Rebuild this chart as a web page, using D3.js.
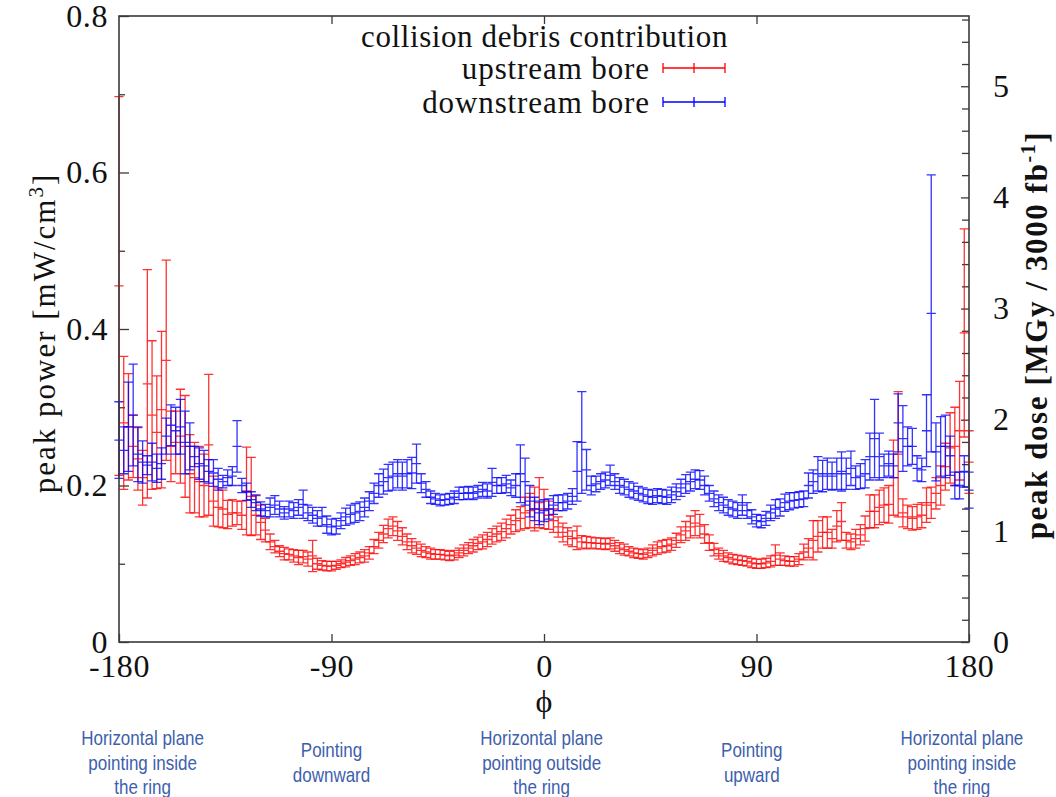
<!DOCTYPE html>
<html>
<head>
<meta charset="utf-8">
<script src="https://cdn.jsdelivr.net/npm/d3@7"></script>
<style>
  body { margin: 0; background: #fff; }
  svg { display: block; }
</style>
</head>
<body>
<svg id="chart" width="1056" height="797"></svg>
<script>
// Azimuthal angle of each bin centre (degrees)
const phi = [
  -180,-178,-176,-174,-172,-170,-168,-166,-164,-162,
  -160,-158,-156,-154,-152,-150,-148,-146,-144,-142,
  -140,-138,-136,-134,-132,-130,-128,-126,-124,-122,
  -120,-118,-116,-114,-112,-110,-108,-106,-104,-102,
  -100,-98,-96,-94,-92,-90,-88,-86,-84,-82,
  -80,-78,-76,-74,-72,-70,-68,-66,-64,-62,
  -60,-58,-56,-54,-52,-50,-48,-46,-44,-42,
  -40,-38,-36,-34,-32,-30,-28,-26,-24,-22,
  -20,-18,-16,-14,-12,-10,-8,-6,-4,-2,
  0,2,4,6,8,10,12,14,16,18,
  20,22,24,26,28,30,32,34,36,38,
  40,42,44,46,48,50,52,54,56,58,
  60,62,64,66,68,70,72,74,76,78,
  80,82,84,86,88,90,92,94,96,98,
  100,102,104,106,108,110,112,114,116,118,
  120,122,124,126,128,130,132,134,136,138,
  140,142,144,146,148,150,152,154,156,158,
  160,162,164,166,168,170,172,174,176,178,
  180
];

// Upstream bore: peak power (mW/cm3) and statistical error
const upstreamPower = [
  0.455,0.28,0.275,0.25,0.234,0.21,0.33,0.29,0.268,0.297,
  0.36,0.25,0.255,0.263,0.25,0.215,0.21,0.205,0.2,0.252,
  0.18,0.172,0.17,0.163,0.165,0.165,0.162,0.193,0.186,0.162,
  0.153,0.143,0.128,0.122,0.116,0.113,0.112,0.11,0.108,0.109,
  0.106,0.11,0.1,0.098,0.097,0.097,0.098,0.1,0.102,0.104,
  0.106,0.108,0.11,0.114,0.122,0.13,0.138,0.145,0.148,0.142,
  0.135,0.128,0.123,0.12,0.117,0.115,0.113,0.112,0.112,0.111,
  0.11,0.111,0.114,0.117,0.12,0.123,0.126,0.128,0.131,0.135,
  0.138,0.141,0.145,0.15,0.155,0.158,0.165,0.168,0.17,0.178,
  0.17,0.162,0.155,0.147,0.14,0.135,0.132,0.133,0.128,0.127,
  0.127,0.126,0.126,0.125,0.126,0.123,0.12,0.118,0.116,0.114,
  0.113,0.112,0.114,0.117,0.12,0.122,0.123,0.125,0.13,0.137,
  0.142,0.147,0.152,0.148,0.138,0.127,0.118,0.113,0.11,0.108,
  0.106,0.105,0.104,0.103,0.101,0.1,0.1,0.101,0.103,0.111,
  0.106,0.104,0.103,0.103,0.106,0.115,0.12,0.13,0.135,0.14,
  0.14,0.132,0.148,0.154,0.13,0.128,0.132,0.137,0.145,0.167,
  0.167,0.172,0.175,0.176,0.21,0.24,0.165,0.16,0.158,0.16,
  0.162,0.175,0.178,0.19,0.2,0.224,0.248,0.25,0.27,0.395,
  0.23
];
const upstreamErr = [
  0.242,0.085,0.068,0.04,0.04,0.035,0.146,0.095,0.072,0.10,
  0.128,0.045,0.04,0.06,0.065,0.05,0.045,0.045,0.04,0.09,
  0.032,0.025,0.024,0.018,0.017,0.015,0.018,0.056,0.05,0.025,
  0.022,0.015,0.01,0.008,0.007,0.008,0.007,0.008,0.009,0.008,
  0.009,0.02,0.007,0.006,0.006,0.006,0.005,0.005,0.006,0.006,
  0.007,0.007,0.008,0.008,0.009,0.01,0.011,0.012,0.012,0.012,
  0.011,0.01,0.009,0.008,0.008,0.007,0.007,0.006,0.006,0.006,
  0.006,0.006,0.006,0.007,0.007,0.008,0.008,0.009,0.009,0.01,
  0.01,0.011,0.012,0.012,0.014,0.015,0.02,0.022,0.028,0.032,
  0.025,0.018,0.015,0.013,0.012,0.011,0.01,0.015,0.008,0.008,
  0.007,0.007,0.007,0.007,0.007,0.007,0.007,0.007,0.006,0.006,
  0.006,0.006,0.006,0.007,0.008,0.008,0.008,0.008,0.009,0.01,
  0.012,0.014,0.016,0.015,0.012,0.01,0.008,0.007,0.007,0.006,
  0.006,0.006,0.006,0.006,0.006,0.006,0.006,0.006,0.007,0.013,
  0.008,0.006,0.006,0.006,0.007,0.01,0.012,0.025,0.02,0.02,
  0.02,0.012,0.02,0.024,0.01,0.01,0.012,0.013,0.016,0.021,
  0.021,0.022,0.022,0.024,0.048,0.08,0.018,0.015,0.015,0.016,
  0.016,0.022,0.02,0.02,0.025,0.03,0.045,0.05,0.063,0.133,
  0.04
];

// Downstream bore: peak power (mW/cm3) and statistical error
const downstreamPower = [
  0.258,0.245,0.275,0.29,0.24,0.23,0.226,0.23,0.222,0.228,
  0.263,0.277,0.27,0.275,0.255,0.25,0.237,0.228,0.225,0.218,
  0.216,0.208,0.205,0.21,0.212,0.25,0.2,0.192,0.182,0.178,
  0.17,0.168,0.172,0.175,0.17,0.165,0.17,0.168,0.172,0.176,
  0.165,0.162,0.158,0.16,0.15,0.147,0.148,0.155,0.16,0.163,
  0.165,0.167,0.172,0.18,0.19,0.2,0.205,0.21,0.212,0.215,
  0.212,0.215,0.216,0.228,0.203,0.195,0.185,0.183,0.181,0.182,
  0.183,0.185,0.19,0.19,0.191,0.19,0.192,0.195,0.193,0.204,
  0.2,0.2,0.202,0.197,0.2,0.215,0.205,0.18,0.17,0.165,
  0.168,0.17,0.175,0.178,0.178,0.18,0.186,0.218,0.255,0.22,
  0.2,0.202,0.205,0.207,0.213,0.205,0.2,0.198,0.195,0.193,
  0.19,0.188,0.186,0.185,0.187,0.186,0.185,0.188,0.192,0.197,
  0.202,0.205,0.208,0.207,0.2,0.19,0.183,0.178,0.175,0.172,
  0.17,0.168,0.175,0.168,0.16,0.155,0.154,0.158,0.165,0.17,
  0.172,0.178,0.18,0.181,0.182,0.183,0.2,0.205,0.215,0.212,
  0.215,0.212,0.215,0.218,0.215,0.222,0.21,0.212,0.215,0.237,
  0.26,0.237,0.225,0.228,0.225,0.28,0.26,0.25,0.25,0.222,
  0.22,0.27,0.42,0.243,0.25,0.25,0.238,0.2,0.2,0.218,
  0.194
];
const downstreamErr = [
  0.049,0.03,0.057,0.065,0.035,0.027,0.012,0.024,0.018,0.02,
  0.023,0.026,0.03,0.035,0.04,0.03,0.013,0.02,0.02,0.015,
  0.017,0.014,0.008,0.01,0.012,0.033,0.009,0.011,0.01,0.01,
  0.009,0.008,0.012,0.012,0.01,0.008,0.01,0.01,0.01,0.018,
  0.01,0.01,0.01,0.012,0.011,0.01,0.01,0.01,0.011,0.012,
  0.012,0.012,0.012,0.012,0.013,0.015,0.016,0.017,0.018,0.018,
  0.018,0.018,0.02,0.025,0.012,0.01,0.008,0.007,0.007,0.007,
  0.007,0.008,0.008,0.008,0.008,0.008,0.008,0.009,0.009,0.018,
  0.01,0.01,0.011,0.01,0.015,0.037,0.03,0.02,0.015,0.015,
  0.014,0.013,0.012,0.01,0.01,0.01,0.01,0.038,0.065,0.026,
  0.012,0.01,0.01,0.01,0.013,0.01,0.01,0.01,0.01,0.01,
  0.009,0.009,0.009,0.009,0.009,0.009,0.009,0.01,0.01,0.011,
  0.012,0.012,0.012,0.012,0.012,0.01,0.01,0.01,0.01,0.01,
  0.01,0.01,0.013,0.01,0.009,0.008,0.008,0.009,0.01,0.012,
  0.011,0.011,0.011,0.01,0.01,0.01,0.016,0.015,0.022,0.02,
  0.02,0.018,0.02,0.025,0.02,0.022,0.015,0.016,0.018,0.03,
  0.05,0.03,0.015,0.016,0.015,0.037,0.042,0.025,0.023,0.016,
  0.015,0.046,0.177,0.037,0.038,0.04,0.025,0.017,0.017,0.02,
  0.023
];

// Axis ticks and labels
const xTicks = [-180, -90, 0, 90, 180];
const xTopTicks = [-90, 0, 90];
const yMajorTicks = [0, 0.2, 0.4, 0.6, 0.8];
const yMinorTicks = [0.1, 0.3, 0.5, 0.7];
const doseLabelTicks = [0, 1, 2, 3, 4, 5];
const doseMinorTicks = [0.2,0.4,0.6,0.8,1.2,1.4,1.6,1.8,2.2,2.4,2.6,2.8,3.2,3.4,3.6,3.8,4.2,4.4,4.6,4.8,5.2,5.4,5.6];
const doseConversion = 7.04; // MGy per 3000 fb^-1 for 1 mW/cm3

const seriesNames = ["upstream bore", "downstream bore"];
const seriesColors = ["#ff0000", "#0000ff"];
const legendTitle = "collision debris contribution";

// Orientation notes under the phi axis
const orientationNotes = [
  { at: -170, lines: ["Horizontal plane", "pointing inside", "the ring"] },
  { at: -90,  lines: ["Pointing", "downward"] },
  { at: -1,   lines: ["Horizontal plane", "pointing outside", "the ring"] },
  { at: 88,   lines: ["Pointing", "upward"] },
  { at: 177,  lines: ["Horizontal plane", "pointing inside", "the ring"] }
];

const serif = "'Liberation Serif', 'Times New Roman', serif";
const sans = "'Liberation Sans', Arial, sans-serif";

const svg = d3.select("#chart");
const plot = { left: 119, right: 969, top: 16, bottom: 642 };

const x = d3.scaleLinear().domain([-180, 180]).range([plot.left, plot.right]);
const y = d3.scaleLinear().domain([0, 0.8]).range([plot.bottom, plot.top]);
const yDose = d3.scaleLinear().domain([0, 0.8 * doseConversion]).range([plot.bottom, plot.top]);

const axisColor = "#3a3a3a";

function styleAxis(g, fontSize) {
  g.select(".domain").remove();
  g.selectAll(".tick line").attr("stroke", axisColor).attr("stroke-width", 1.3);
  g.selectAll(".tick text")
    .attr("fill", "#111")
    .style("font-family", serif)
    .style("font-size", fontSize + "px")
    .style("letter-spacing", "0.6px");
}

// Left axis (peak power)
svg.append("g")
  .attr("transform", `translate(${plot.left},0)`)
  .call(d3.axisLeft(y).tickValues(yMajorTicks).tickSizeInner(-10).tickSizeOuter(0).tickPadding(11)
    .tickFormat(d => d === 0 ? "0" : d.toFixed(1)))
  .call(g => styleAxis(g, 32));
svg.append("g")
  .attr("transform", `translate(${plot.left},0)`)
  .call(d3.axisLeft(y).tickValues(yMinorTicks).tickSizeInner(-6).tickSizeOuter(0).tickFormat(""))
  .call(g => styleAxis(g, 32));

// Right axis (peak dose)
svg.append("g")
  .attr("transform", `translate(${plot.right},0)`)
  .call(d3.axisRight(yDose).tickValues(doseLabelTicks).tickSizeInner(-8).tickSizeOuter(0).tickPadding(24)
    .tickFormat(d => String(d)))
  .call(g => styleAxis(g, 32));
svg.append("g")
  .attr("transform", `translate(${plot.right},0)`)
  .call(d3.axisRight(yDose).tickValues(doseMinorTicks).tickSizeInner(-7).tickSizeOuter(0).tickFormat(""))
  .call(g => styleAxis(g, 32));

// Bottom axis (phi), plain hyphen for negative labels
svg.append("g")
  .attr("transform", `translate(0,${plot.bottom})`)
  .call(d3.axisBottom(x).tickValues(xTicks).tickSizeInner(-8).tickSizeOuter(0).tickPadding(12)
    .tickFormat(d => String(d)))
  .call(g => styleAxis(g, 32));

// Top mirror ticks
svg.append("g")
  .attr("transform", `translate(0,${plot.top})`)
  .call(d3.axisTop(x).tickValues(xTopTicks).tickSizeInner(-8).tickSizeOuter(0).tickFormat(""))
  .call(g => styleAxis(g, 32));

// Error bars: vertical bar, caps at both ends and a tick at the central value
const capHalf = 4.6;
function errorBarPath(px, v, e) {
  const xc = x(px), yh = y(v + e), yl = y(v - e), yc = y(v);
  return `M${xc},${yl}V${yh}` +
         `M${xc - capHalf},${yh}H${xc + capHalf}` +
         `M${xc - capHalf},${yl}H${xc + capHalf}` +
         `M${xc - capHalf},${yc}H${xc + capHalf}`;
}

const series = [
  { values: upstreamPower, errors: upstreamErr },
  { values: downstreamPower, errors: downstreamErr }
];

series.forEach((s, k) => {
  const pts = phi.map((p, i) => ({ p, v: s.values[i], e: s.errors[i] }));
  svg.append("g")
    .attr("class", "series")
    .selectAll("path")
    .data(pts)
    .join("path")
    .attr("d", d => errorBarPath(d.p, d.v, d.e))
    .attr("fill", "none")
    .attr("stroke", seriesColors[k])
    .attr("stroke-width", 1.3)
    .attr("stroke-opacity", 0.8);
});

// Frame drawn over the marks
svg.append("rect")
  .attr("x", plot.left).attr("y", plot.top)
  .attr("width", plot.right - plot.left).attr("height", plot.bottom - plot.top)
  .attr("fill", "none").attr("stroke", axisColor).attr("stroke-width", 1.6);

// Legend
const legend = svg.append("g").style("font-family", serif).style("font-size", "31px")
  .style("letter-spacing", "0.9px").attr("fill", "#111");
legend.append("text").attr("x", 728).attr("y", 47).attr("text-anchor", "end")
  .style("letter-spacing", "0.6px").text(legendTitle);
const legendRows = [79, 113];
const sampleX0 = 663, sampleX1 = 725;
seriesNames.forEach((name, k) => {
  const ty = legendRows[k];
  legend.append("text").attr("x", 650).attr("y", ty).attr("text-anchor", "end").text(name);
  const ly = ty - 11;
  const mid = (sampleX0 + sampleX1) / 2;
  legend.append("path")
    .attr("d", `M${sampleX0},${ly}H${sampleX1}M${sampleX0},${ly - 5}V${ly + 5}M${mid},${ly - 5}V${ly + 5}M${sampleX1},${ly - 5}V${ly + 5}`)
    .attr("fill", "none")
    .attr("stroke", seriesColors[k])
    .attr("stroke-width", 1.3);
});

// Axis titles
svg.append("text")
  .attr("transform", `translate(55,333) rotate(-90)`)
  .attr("text-anchor", "middle")
  .style("font-family", serif).style("font-size", "31px").style("letter-spacing", "2px").attr("fill", "#111")
  .call(t => {
    t.append("tspan").text("peak power [mW/cm");
    t.append("tspan").attr("dy", -12).style("font-size", "21px").text("3");
    t.append("tspan").attr("dy", 12).text("]");
  });

svg.append("text")
  .attr("transform", `translate(1047,335) rotate(-90)`)
  .attr("text-anchor", "middle")
  .style("font-family", serif).style("font-size", "31px").style("font-weight", "bold")
  .style("letter-spacing", "1.6px").attr("fill", "#111")
  .call(t => {
    t.append("tspan").text("peak dose  [MGy / 3000 fb");
    t.append("tspan").attr("dy", -12).style("font-size", "20px").text("-1");
    t.append("tspan").attr("dy", 12).text("]");
  });

svg.append("text")
  .attr("x", x(0)).attr("y", 712)
  .attr("text-anchor", "middle")
  .style("font-family", serif).style("font-size", "32px").attr("fill", "#111")
  .text("ϕ");

// Orientation notes, set in a horizontally condensed sans face
const notes = svg.append("g").style("font-family", sans).style("font-size", "20px").attr("fill", "#3d60ad");
orientationNotes.forEach(n => {
  const startY = n.lines.length === 3 ? 745 : 757;
  n.lines.forEach((line, j) => {
    notes.append("text")
      .attr("transform", `translate(${x(n.at)},${startY + j * 24.5}) scale(0.85,1)`)
      .attr("text-anchor", "middle")
      .text(line);
  });
});
</script>
</body>
</html>
